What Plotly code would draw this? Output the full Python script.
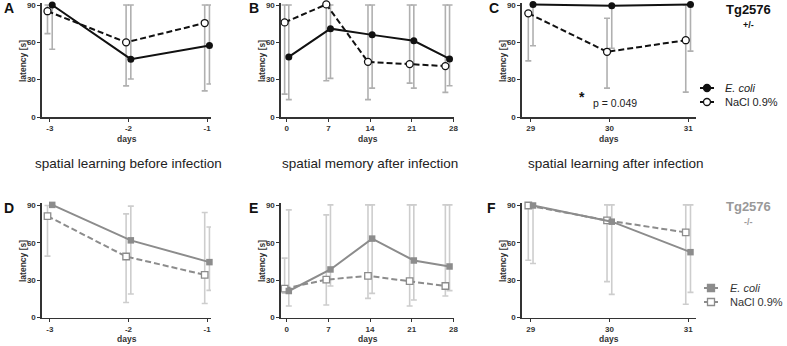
import plotly.graph_objects as go

# ---------------- data ----------------
days_learn_before = [-3, -2, -1]
days_memory = [0, 7, 14, 21, 27]
days_learn_after = [29, 30, 31]

# Tg2576 +/-  (top row)
A_ecoli = [90, 46.5, 57.5]
A_ecoli_lo = [54.5, 30.5, 26.5]
A_ecoli_hi = [90, 90, 90]
A_nacl = [85, 60, 75.5]
A_nacl_lo = [67, 25, 21]
A_nacl_hi = [90, 90, 90]

B_ecoli = [48.3, 71, 66, 61.2, 46.7]
B_ecoli_lo = [14, 31, 23.2, 23.2, 25.1]
B_ecoli_hi = [90, 90, 90, 90, 90]
B_nacl = [76, 90.5, 44.3, 42.5, 40.9]
B_nacl_lo = [18.4, 29.1, 14, 27.2, 19.8]
B_nacl_hi = [90, 90.5, 90, 90, 90]

C_ecoli = [90.5, 89.3, 90.5]
C_ecoli_lo = [57.2, 55.3, 52.9]
C_ecoli_hi = [90.5, 89.3, 90.5]
C_nacl = [83.3, 52.4, 61.7]
C_nacl_lo = [45.1, 23.2, 20]
C_nacl_hi = [83.3, 79.3, 90]

# Tg2576 -/-  (bottom row)
D_ecoli = [90.5, 62, 44.5]
D_ecoli_lo = [90.5, 18.9, 21.8]
D_ecoli_hi = [90.5, 89.5, 72.7]
D_nacl = [81.5, 49, 34.3]
D_nacl_lo = [49.3, 12, 11.2]
D_nacl_hi = [90, 83.3, 84.4]

E_ecoli = [21.3, 38.6, 63.4, 45.8, 41]
E_ecoli_lo = [9.3, 25.3, 19.4, 14.1, 21.6]
E_ecoli_hi = [86.5, 90.5, 90.5, 90.5, 90.5]
E_nacl = [23.2, 30.4, 33.5, 29.3, 25.3]
E_nacl_lo = [19.6, 10.1, 15.4, 9.3, 17.3]
E_nacl_hi = [47.7, 82.5, 90.5, 90.5, 90.5]

F_ecoli = [90, 77, 52.5]
F_ecoli_lo = [43.4, 18.6, 20.2]
F_ecoli_hi = [90, 90.5, 90.5]
F_nacl = [90, 78, 68.4]
F_nacl_lo = [46, 28.8, 10.6]
F_nacl_hi = [90, 90.5, 90.5]

y_ticks = [0, 30, 60, 90]
panel_titles = ["spatial learning before infection",
                "spatial memory after infection",
                "spatial learning after infection"]
legend_labels = ["<i>E. coli</i>", "NaCl 0.9%"]

# ---------------- styling ----------------
FONT = "Liberation Sans, Arial, sans-serif"
TOP_COL = "#111111"
BOT_COL = "#8c8c8c"
TOP_ERR = "#b0b0b0"
BOT_ERR = "#cdcdcd"
W, H = 787, 346
YMAX = 92.0
PXU = 112.0 / 90.0  # pixels per latency unit

xdom_px = [(42, 211), (281, 454), (522, 696)]
xdom = [(a / W, b / W) for a, b in xdom_px]
ydom_top = (1 - 117 / H, 1 - (5 - (YMAX - 90) * PXU) / H)
ydom_bot = (1 - 317.5 / H, 1 - (205.5 - (YMAX - 90) * PXU) / H)

panels = [
    (days_learn_before, [-3.1, -0.95], days_learn_before, 0.03, A_ecoli, A_ecoli_lo, A_ecoli_hi, A_nacl, A_nacl_lo, A_nacl_hi, 0),
    (days_memory, [-0.96, 28.1], [0, 7, 14, 21, 28], 0.35, B_ecoli, B_ecoli_lo, B_ecoli_hi, B_nacl, B_nacl_lo, B_nacl_hi, 0),
    (days_learn_after, [28.89, 31.1], days_learn_after, 0.03, C_ecoli, C_ecoli_lo, C_ecoli_hi, C_nacl, C_nacl_lo, C_nacl_hi, 0),
    (days_learn_before, [-3.1, -0.95], days_learn_before, 0.03, D_ecoli, D_ecoli_lo, D_ecoli_hi, D_nacl, D_nacl_lo, D_nacl_hi, 1),
    (days_memory, [-0.96, 28.1], [0, 7, 14, 21, 28], 0.35, E_ecoli, E_ecoli_lo, E_ecoli_hi, E_nacl, E_nacl_lo, E_nacl_hi, 1),
    (days_learn_after, [28.89, 31.1], days_learn_after, 0.03, F_ecoli, F_ecoli_lo, F_ecoli_hi, F_nacl, F_nacl_lo, F_nacl_hi, 1),
]

fig = go.Figure()
layout = dict(
    width=W, height=H, margin=dict(l=0, r=0, t=0, b=0, autoexpand=False),
    paper_bgcolor="white", plot_bgcolor="white", showlegend=False,
    font=dict(family=FONT, color="#222"), hovermode=False,
)

tickfont = dict(family=FONT, size=8, color="#333", weight="bold")

for i, (days, xr, ticks, off, ec, elo, ehi, na, nlo, nhi, row) in enumerate(panels):
    n = i + 1
    xa = "x" if n == 1 else f"x{n}"
    ya = "y" if n == 1 else f"y{n}"
    col = TOP_COL if row == 0 else BOT_COL
    ecol = TOP_ERR if row == 0 else BOT_ERR
    sym = "circle" if row == 0 else "square"
    msize = 7 if row == 0 else 6.5
    x_e = [d + off for d in days]
    x_n = [d - off for d in days]
    for xs, ys, lo, hi in ((x_n, na, nlo, nhi), (x_e, ec, elo, ehi)):
        fig.add_trace(go.Scatter(
            x=xs, y=ys, mode="markers", xaxis=xa, yaxis=ya,
            marker=dict(size=1, color="rgba(0,0,0,0)"),
            error_y=dict(type="data", symmetric=False,
                         array=[h - v for h, v in zip(hi, ys)],
                         arrayminus=[v - l for v, l in zip(ys, lo)],
                         color=ecol, thickness=1.6, width=3),
            cliponaxis=False, hoverinfo="skip"))
    fig.add_trace(go.Scatter(
        x=x_n, y=na, mode="lines+markers", xaxis=xa, yaxis=ya,
        line=dict(color=col, width=2, dash="6px,3px"),
        marker=dict(symbol=sym, size=msize, color="white", line=dict(color=col, width=1.3)),
        cliponaxis=False))
    fig.add_trace(go.Scatter(
        x=x_e, y=ec, mode="lines+markers", xaxis=xa, yaxis=ya,
        line=dict(color=col, width=2),
        marker=dict(symbol=sym, size=msize, color=col, line=dict(color=col, width=0)),
        cliponaxis=False))

    ydom = ydom_top if row == 0 else ydom_bot
    xkey = "xaxis" if n == 1 else f"xaxis{n}"
    ykey = "yaxis" if n == 1 else f"yaxis{n}"
    layout[xkey] = dict(
        domain=list(xdom[i % 3]), range=xr, anchor=ya, tickmode="array",
        tickvals=ticks, ticktext=[str(t) for t in ticks],
        showline=True, linecolor="#333", linewidth=1.6, ticks="outside",
        ticklen=3, tickwidth=1, tickcolor="#333", showgrid=False, zeroline=False,
        tickfont=tickfont, automargin=False,
    )
    layout[ykey] = dict(
        domain=list(ydom), range=[0, YMAX], anchor=xa, tickmode="array",
        tickvals=y_ticks, showline=True, linecolor="#333", linewidth=1.6,
        ticks="outside", ticklen=3, tickwidth=1, tickcolor="#333",
        showgrid=False, zeroline=False, tickfont=tickfont, automargin=False,
    )

fig.update_layout(**layout)

annotations = []
# axis titles
for r, (dy, ly) in enumerate(((139, 61), (339, 261))):
    for c, (a, b) in enumerate(xdom_px):
        annotations.append(dict(text="<b>days</b>", x=(a + b) / 2 / W, y=1 - dy / H, xref="paper", yref="paper",
                                xanchor="center", yanchor="middle", showarrow=False, borderpad=0,
                                font=dict(family=FONT, size=8.5, color="#333")))
        annotations.append(dict(text="<b>latency [s]</b>", x=(a - 19) / W, y=1 - ly / H, xref="paper", yref="paper",
                                xanchor="center", yanchor="middle", showarrow=False, textangle=-90, borderpad=0,
                                font=dict(family=FONT, size=8.5, color="#333")))
# panel letters
letters = ["A", "B", "C", "D", "E", "F"]
letter_x = [2, 247, 487, 2, 247, 485]
letter_y = [8, 8, 8, 208, 208, 208]
for L, lx, ly in zip(letters, letter_x, letter_y):
    annotations.append(dict(text=f"<b>{L}</b>", x=lx / W, y=1 - ly / H, xref="paper", yref="paper",
                            xanchor="left", yanchor="middle", showarrow=False,
                            font=dict(family=FONT, size=14, color="#111")))
# panel titles
for t, cx in zip(panel_titles, [128.5, 369.5, 615.5]):
    annotations.append(dict(text=t, x=cx / W, y=1 - 163 / H, xref="paper", yref="paper",
                            xanchor="center", yanchor="middle", showarrow=False,
                            font=dict(family=FONT, size=13.5, color="#222")))
# significance
annotations.append(dict(text="<b>*</b>", x=582 / W, y=1 - 97 / H, xref="paper", yref="paper",
                        xanchor="center", yanchor="middle", showarrow=False,
                        font=dict(family=FONT, size=14, color="#111")))
annotations.append(dict(text="p = 0.049", x=591 / W, y=1 - 103 / H, xref="paper", yref="paper",
                        xanchor="left", yanchor="middle", showarrow=False,
                        font=dict(family=FONT, size=10.5, color="#222")))
# group labels
for row, gcol, gy, sub in ((0, "#111", 9, "+/-"), (1, "#999", 206, "-/-")):
    annotations.append(dict(text="<b>Tg2576</b>", x=748 / W, y=1 - gy / H, xref="paper", yref="paper",
                            xanchor="center", yanchor="middle", showarrow=False,
                            font=dict(family=FONT, size=13, color=gcol)))
    annotations.append(dict(text=f"<b>{sub}</b>", x=748 / W, y=1 - (gy + 16) / H, xref="paper", yref="paper",
                            xanchor="center", yanchor="middle", showarrow=False,
                            font=dict(family=FONT, size=9, color=gcol)))

# manual legends
shapes = []
for row, col, lx0, lx1, mx, tx, ly in ((0, TOP_COL, 700, 714, 707, 724, (88, 102)),
                                       (1, BOT_COL, 704, 718, 711, 729, (288, 302))):
    for k, (lab, yy) in enumerate(zip(legend_labels, ly)):
        yp = 1 - yy / H
        shapes.append(dict(type="line", xref="paper", yref="paper", x0=lx0 / W, x1=lx1 / W,
                           y0=yp, y1=yp, line=dict(color=col, width=2)))
        fill = col if k == 0 else "white"
        stype = "circle" if row == 0 else "rect"
        shapes.append(dict(type=stype, xref="paper", yref="paper", xsizemode="pixel", ysizemode="pixel",
                           xanchor=mx / W, yanchor=yp, x0=-3.5, x1=3.5, y0=-3.5, y1=3.5,
                           fillcolor=fill, line=dict(color=col, width=1.3)))
        annotations.append(dict(text=lab, x=tx / W, y=yp, xref="paper", yref="paper",
                                xanchor="left", yanchor="middle", showarrow=False, borderpad=0,
                                font=dict(family=FONT, size=11, color="#222" if row == 0 else "#333")))

fig.update_layout(annotations=annotations, shapes=shapes)
fig.write_html("out.html", config={"displayModeBar": False, "staticPlot": True},
               post_script="document.body.style.margin='0';document.body.style.padding='0';")
